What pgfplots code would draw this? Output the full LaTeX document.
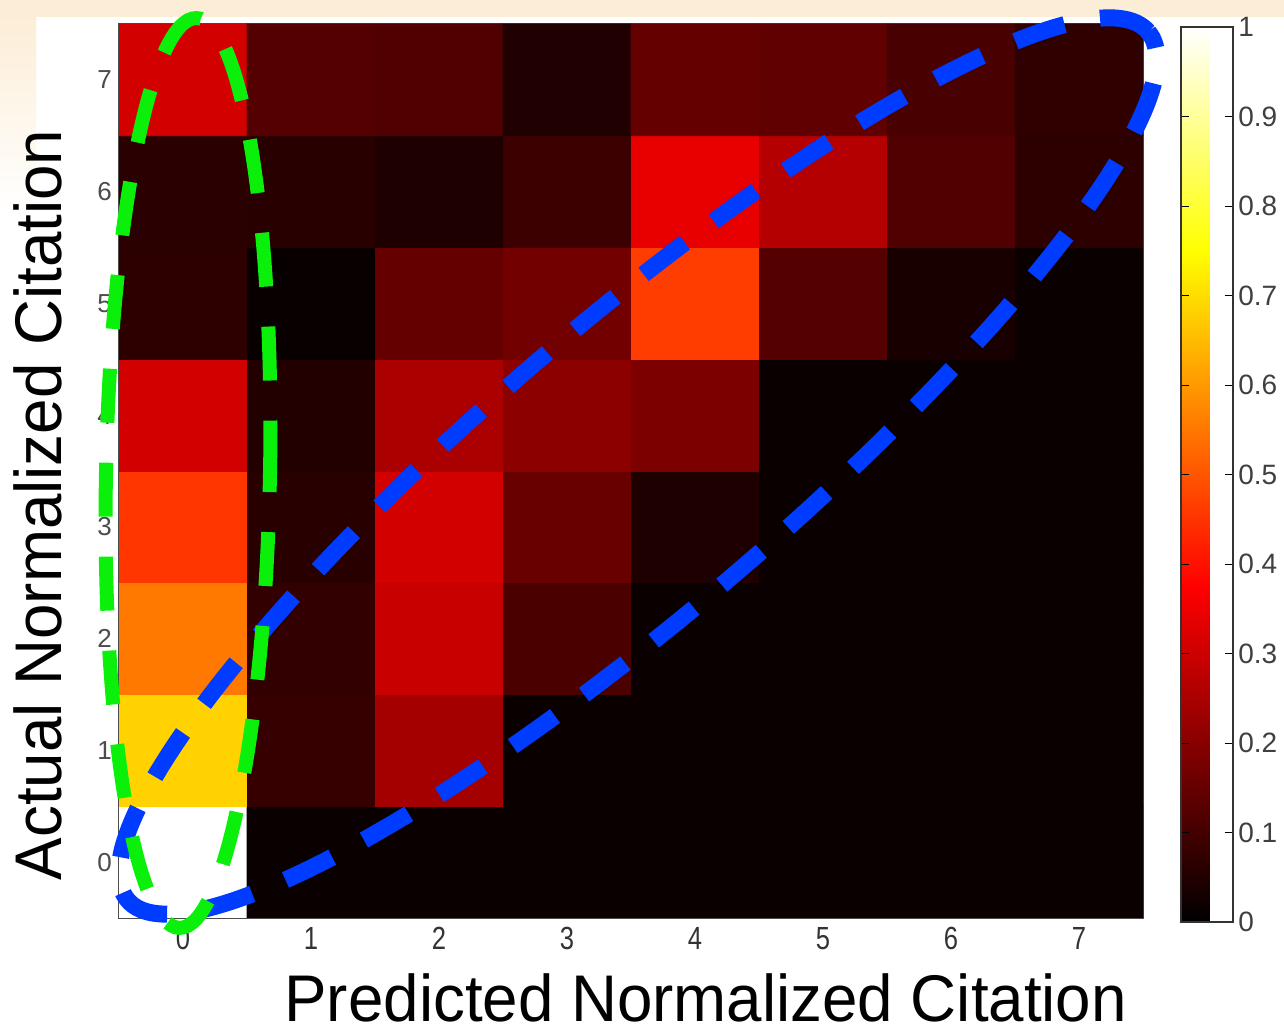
\documentclass[border=0pt]{standalone}
\usepackage{fontspec}
\setmainfont[FakeStretch=0.965]{Liberation Sans}
\newfontfamily\tickfont[FakeStretch=0.8]{Liberation Sans}
\newfontfamily\cbfont{Liberation Sans}
\usepackage{pgfplots}
\pgfplotsset{compat=1.18}
\definecolor{mygreen}{RGB}{10,240,10}
\definecolor{myblue}{RGB}{0,60,255}
\definecolor{bgor}{RGB}{252,238,214}
\begin{document}
\begin{tikzpicture}[x=0.5pt,y=0.5pt]
\fill[white] (0,0) rectangle (1284,1031);
\useasboundingbox (0,0) rectangle (1284,1031);
\fill[bgor] (0,1014) rectangle (1284,1031);
\shade[top color=bgor, bottom color=white] (0,820) rectangle (36,1014);
\begin{axis}[
  at={(59.5pt,56.5pt)}, anchor=south west,
  scale only axis, width=512pt, height=447pt,
  xmin=-0.5, xmax=7.5, ymin=-0.5, ymax=7.5,
  xtick={0,...,7}, ytick={0,...,7},
  tick align=inside, major tick length=5pt,
  tick style={black, line width=0.5pt},
  axis line style={black!70, line width=0.6pt},
  /pgf/number format/assume math mode=true,
  xticklabel style={font=\tickfont\fontsize{16}{16}\selectfont, text=black!80, yshift=-1pt},
  yticklabel style={font=\cbfont\fontsize{13}{13}\selectfont, text=black!70},
  xlabel={Predicted Normalized Citation},
  ylabel={Actual Normalized Citation},
  xlabel style={font=\fontsize{33}{33}\selectfont, at={(axis description cs:0.573,-0.1163)}, anchor=base, inner sep=0pt},
  ylabel style={font=\fontsize{33}{33}\selectfont, at={(axis description cs:-0.0557,0.462)}, anchor=base, inner sep=0pt},
  colormap={mhot}{rgb255(0cm)=(0,0,0); rgb255(3cm)=(255,0,0); rgb255(6cm)=(255,255,0); rgb255(8cm)=(255,255,255)},
  point meta min=0, point meta max=1,
  colorbar,
  colorbar style={
    at={(1.037,0.496)}, anchor=west,
    width=26pt, height=447.5pt,
    ytick={0,0.1,0.2,0.3,0.4,0.5,0.6,0.7,0.8,0.9,1},
    tick align=inside, major tick length=4pt,
    ytick pos=both, yticklabel pos=right,
    tick style={black, line width=0.5pt},
    axis line style={black!80, line width=0.6pt},
    /pgf/number format/assume math mode=true,
    yticklabel style={font=\cbfont\fontsize{14}{14}\selectfont, text=black!75, inner sep=2.5pt},
  },
]
\addplot[matrix plot*, mesh/cols=8, point meta=explicit] table[meta=c] {
x y c
0 0 1.000
1 0 0.015
2 0 0.015
3 0 0.015
4 0 0.015
5 0 0.015
6 0 0.015
7 0 0.015
0 1 0.684
1 1 0.081
2 1 0.243
3 1 0.015
4 1 0.015
5 1 0.015
6 1 0.015
7 1 0.015
0 2 0.551
1 2 0.074
2 2 0.294
3 2 0.110
4 2 0.015
5 2 0.015
6 2 0.015
7 2 0.015
0 3 0.455
1 3 0.059
2 3 0.310
3 3 0.154
4 3 0.044
5 3 0.015
6 3 0.015
7 3 0.015
0 4 0.310
1 4 0.050
2 4 0.250
3 4 0.206
4 4 0.184
5 4 0.015
6 4 0.015
7 4 0.015
0 5 0.066
1 5 0.012
2 5 0.147
3 5 0.169
4 5 0.465
5 5 0.125
6 5 0.037
7 5 0.015
0 6 0.062
1 6 0.059
2 6 0.044
3 6 0.088
4 6 0.341
5 6 0.265
6 6 0.118
7 6 0.066
0 7 0.310
1 7 0.125
2 7 0.118
3 7 0.047
4 7 0.147
5 7 0.141
6 7 0.106
7 7 0.070
};
\end{axis}
\draw[myblue, line width=8.5pt, dash pattern=on 26pt off 18pt, rotate around={40.4:(638,565)}] (638,565) ellipse[x radius=335pt, y radius=72.5pt];
\draw[mygreen, line width=7pt, dash pattern=on 27pt off 20pt, rotate around={-1.07:(188,558)}] (188,558) ellipse[x radius=41pt, y radius=227.5pt];
\end{tikzpicture}
\end{document}
